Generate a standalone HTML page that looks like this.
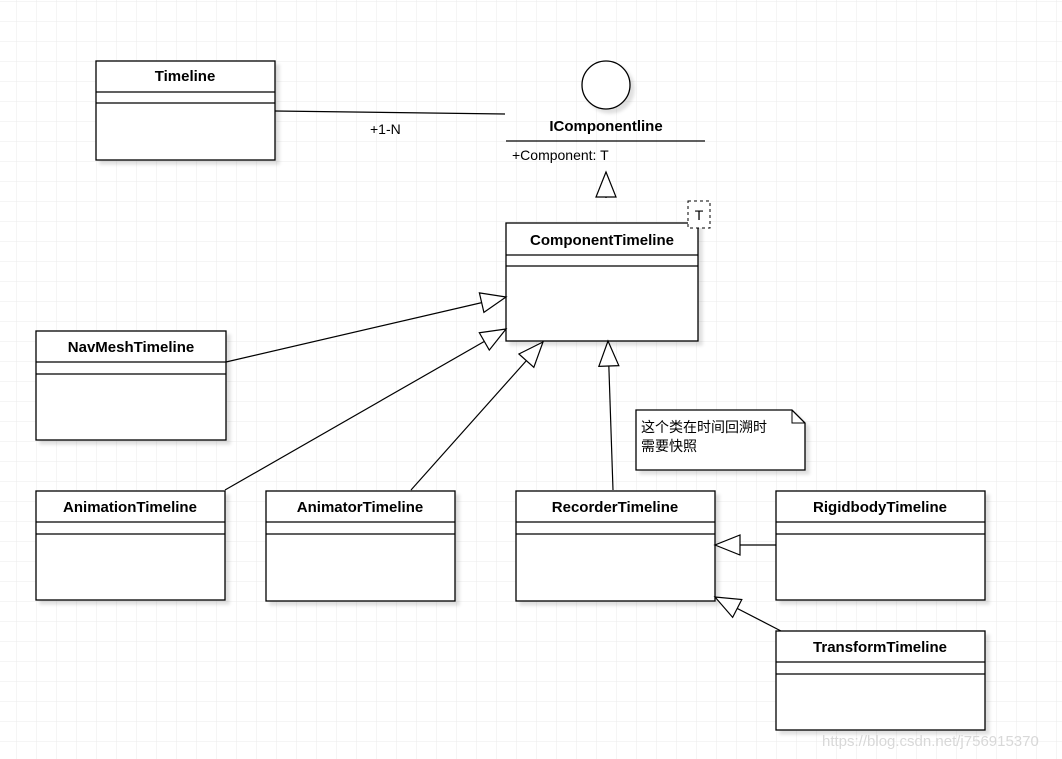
<!DOCTYPE html>
<html><head><meta charset="utf-8"><style>
html,body{margin:0;padding:0;background:#fff}
svg{display:block}
text{font-family:"Liberation Sans","Noto Sans CJK SC",sans-serif;fill:#000}
.b{font-weight:bold;font-size:15px;text-anchor:middle}
</style></head><body>
<svg width="1062" height="759" viewBox="0 0 1062 759" xmlns="http://www.w3.org/2000/svg">
<defs>
<pattern id="g" x="16" y="1" width="20" height="20" patternUnits="userSpaceOnUse">
<path d="M0 0H20M0 0V20" stroke="#ebebeb" stroke-width="1" fill="none"/>
</pattern>
<marker id="t" markerWidth="30" markerHeight="24" refX="26" refY="11" orient="auto" markerUnits="userSpaceOnUse">
<path d="M26,11 L1,1 L1,21 Z" fill="#fff" stroke="#000" stroke-width="1.2"/>
</marker>
<filter id="s" x="-10%" y="-10%" width="130%" height="130%"><feDropShadow dx="4" dy="4" stdDeviation="1.5" flood-color="#000" flood-opacity="0.12"/></filter>
</defs>
<rect width="1062" height="759" fill="#fff"/>
<rect width="1062" height="759" fill="url(#g)"/>

<g fill="#fff" stroke="#000" stroke-width="1.3" filter="url(#s)">
<rect x="96" y="61" width="179" height="99"/>
<rect x="506" y="223" width="192" height="118"/>
<rect x="36" y="331" width="190" height="109"/>
<rect x="36" y="491" width="189" height="109"/>
<rect x="266" y="491" width="189" height="110"/>
<rect x="516" y="491" width="199" height="110"/>
<rect x="776" y="491" width="209" height="109"/>
<rect x="776" y="631" width="209" height="99"/>
<circle cx="606" cy="85" r="24"/>
<path d="M636,410 H792 L805,423 V470 H636 Z"/>
</g>
<path d="M792,410 V423 H805" fill="none" stroke="#000" stroke-width="1"/>
<g stroke="#000" stroke-width="1.3">
<path d="M96 92H275M96 103H275"/>
<path d="M506 255H698M506 266H698"/>
<path d="M36 362H226M36 374H226"/>
<path d="M36 522H225M36 534H225"/>
<path d="M266 522H455M266 534H455"/>
<path d="M516 522H715M516 534H715"/>
<path d="M776 522H985M776 534H985"/>
<path d="M776 662H985M776 674H985"/>
<path d="M506 141H705"/>
</g>
<rect x="688" y="201" width="22" height="27" fill="#fff" stroke="#000" stroke-dasharray="3,3"/>
<text x="699" y="220" style="font-size:14px;text-anchor:middle">T</text>

<g stroke="#000" stroke-width="1.2" fill="none">
<path d="M275 111L505 114"/>
<path d="M606 198V172" marker-end="url(#t)"/>
<path d="M226 362L506 297" marker-end="url(#t)"/>
<path d="M225 490L506 329" marker-end="url(#t)"/>
<path d="M411 490L543 342" marker-end="url(#t)"/>
<path d="M613 490L608 341" marker-end="url(#t)"/>
<path d="M776 545L715 545" marker-end="url(#t)"/>
<path d="M781 631L715 597" marker-end="url(#t)"/>
</g>

<text class="b" x="185" y="81">Timeline</text>
<text class="b" x="606" y="131">IComponentline</text>
<text x="512" y="160" style="font-size:14px">+Component: T</text>
<text x="370" y="134" style="font-size:14px">+1-N</text>
<text class="b" x="602" y="245">ComponentTimeline</text>
<text class="b" x="131" y="352">NavMeshTimeline</text>
<text class="b" x="130" y="512">AnimationTimeline</text>
<text class="b" x="360" y="512">AnimatorTimeline</text>
<text class="b" x="615" y="512">RecorderTimeline</text>
<text class="b" x="880" y="512">RigidbodyTimeline</text>
<text class="b" x="880" y="652">TransformTimeline</text>
<text x="641" y="432" style="font-size:14px">这个类在时间回溯时</text>
<text x="641" y="451" style="font-size:14px">需要快照</text>
<text x="822" y="746" style="font-size:15px;fill:#d8d8d8">https://blog.csdn.net/j756915370</text>
</svg>
</body></html>
